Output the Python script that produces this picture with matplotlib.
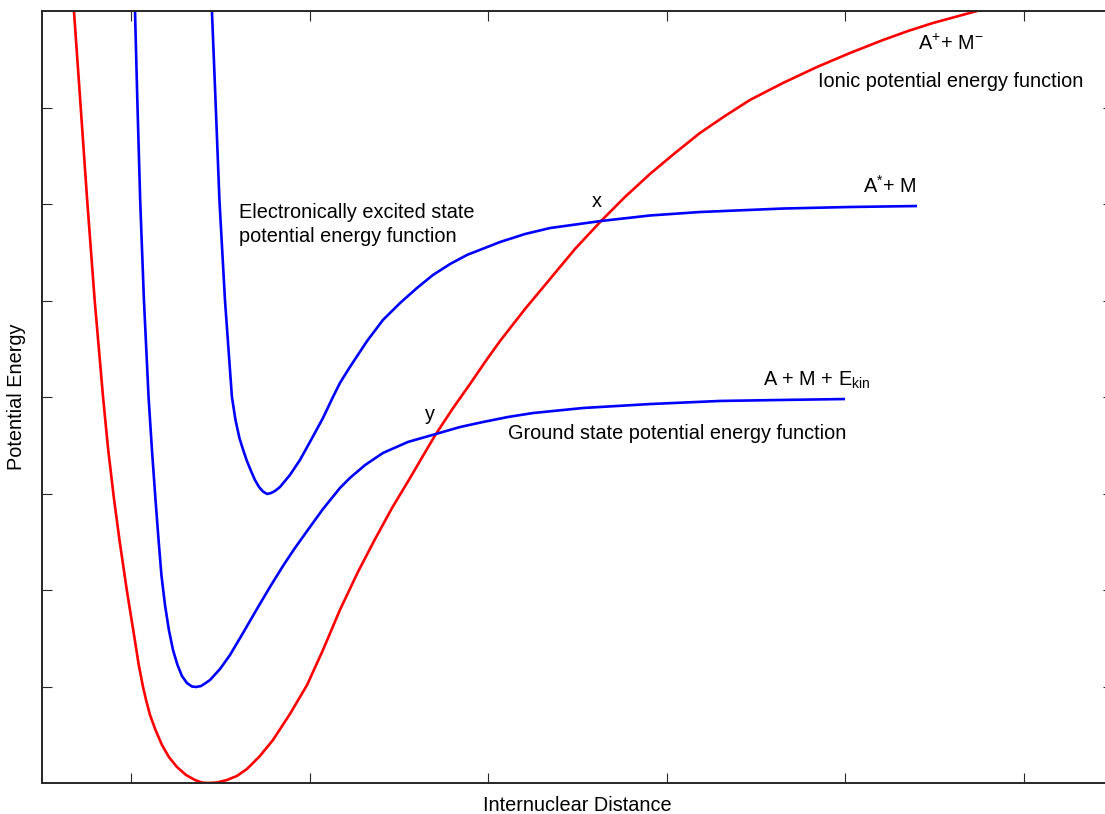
import matplotlib
matplotlib.use('Agg')
import matplotlib.pyplot as plt

plt.rcParams['font.family'] = ['Liberation Sans', 'DejaVu Sans']
plt.rcParams['mathtext.default'] = 'regular'

# curves (x: internuclear distance, y: potential energy)
ionic_x = [0.175, 0.179, 0.214, 0.253, 0.295, 0.342, 0.371, 0.402, 0.434, 0.475,
           0.520, 0.542, 0.566, 0.583, 0.605, 0.636, 0.672, 0.711, 0.756, 0.807,
           0.857, 0.896, 0.930,
           0.980, 1.036, 1.092, 1.148, 1.221, 1.294, 1.389, 1.485, 1.574, 1.669,
           1.770, 1.866, 1.961, 2.062, 2.134, 2.207, 2.303, 2.398, 2.482, 2.566,
           2.706, 2.846, 2.986, 3.132, 3.266, 3.406, 3.546, 3.686, 3.826, 3.966,
           4.151, 4.342, 4.527, 4.711, 4.852, 4.992, 5.115, 5.238, 5.367]
ionic_y = [8.218, 8.000, 7.078, 6.041, 5.005, 4.000, 3.451, 2.964, 2.518, 2.000,
           1.482, 1.223, 0.995, 0.860, 0.705, 0.549, 0.394, 0.269, 0.166, 0.083,
           0.031, 0.005, 0.000,
           0.005, 0.031, 0.073, 0.145, 0.280, 0.446, 0.715, 1.016, 1.378, 1.793,
           2.187, 2.528, 2.850, 3.161, 3.389, 3.617, 3.886, 4.135, 4.363, 4.580,
           4.912, 5.223, 5.534, 5.824, 6.073, 6.311, 6.528, 6.736, 6.912, 7.078,
           7.254, 7.420, 7.565, 7.699, 7.793, 7.876, 7.938, 8.000, 8.062]

ground_x = [0.519, 0.521, 0.534, 0.550, 0.571, 0.597, 0.616, 0.636, 0.653, 0.669,
            0.689, 0.711, 0.734, 0.759, 0.784, 0.812, 0.840, 0.863, 0.891, 0.913,
            0.941, 0.997, 1.053, 1.126, 1.204, 1.277, 1.350, 1.417, 1.485, 1.574,
            1.669, 1.725, 1.810, 1.910, 2.050, 2.207, 2.342, 2.471, 2.611, 2.751,
            3.031, 3.406, 3.798, 4.134, 4.499]
ground_y = [8.218, 8.000, 7.078, 6.041, 5.005, 4.000, 3.451, 2.933, 2.518, 2.155,
            1.845, 1.585, 1.378, 1.223, 1.109, 1.036, 1.000, 0.995, 1.005, 1.031,
            1.067, 1.181, 1.326, 1.554, 1.803, 2.031, 2.249, 2.435, 2.611, 2.839,
            3.057, 3.161, 3.295, 3.420, 3.534, 3.617, 3.689, 3.741, 3.793, 3.834,
            3.886, 3.927, 3.959, 3.969, 3.979]

excited_x = [0.950, 0.952, 0.972, 0.994, 1.025, 1.064, 1.084, 1.106, 1.129, 1.148,
             1.171, 1.193, 1.216, 1.238, 1.261, 1.283, 1.305, 1.333, 1.389, 1.445,
             1.507, 1.574, 1.630, 1.669, 1.725, 1.821, 1.910, 2.006, 2.101, 2.190,
             2.286, 2.381, 2.566, 2.706, 2.846, 3.132, 3.406, 3.686, 4.151, 4.527,
             4.902]
excited_y = [8.218, 8.000, 7.078, 6.041, 5.005, 4.000, 3.762, 3.575, 3.440, 3.337,
             3.233, 3.140, 3.067, 3.021, 2.995, 3.005, 3.026, 3.067, 3.192, 3.347,
             3.554, 3.782, 4.000, 4.145, 4.311, 4.580, 4.798, 4.974, 5.130, 5.264,
             5.378, 5.472, 5.606, 5.689, 5.751, 5.824, 5.881, 5.917, 5.953, 5.969,
             5.979]

xticks = [0.5, 1.5, 2.5, 3.5, 4.5, 5.5]
yticks = [1, 2, 3, 4, 5, 6, 7]

fig = plt.figure(figsize=(11.05, 8.14), dpi=100)
ax = fig.add_axes([42/1105, 31/814, 1071/1105, 772/814])

ax.plot(ionic_x, ionic_y, color='#ff0000', lw=1.9, solid_capstyle='butt')
ax.plot(ground_x, ground_y, color='#0000ff', lw=1.9, solid_capstyle='butt')
ax.plot(excited_x, excited_y, color='#0000ff', lw=1.9, solid_capstyle='butt')

ax.set_xlim(0, 6)
ax.set_ylim(0, 8)
ax.set_xticks(xticks)
ax.set_yticks(yticks)
ax.set_xticklabels([])
ax.set_yticklabels([])
ax.tick_params(direction='in', length=7.5, width=0.8, top=True, right=True,
               color='#262626')
for s in ax.spines.values():
    s.set_linewidth(1.4)
    s.set_color('#262626')

fs = 14.3
ax.text(4.908, 7.596, r'A$^{+}$+ M$^{-}$', fontsize=fs, va='baseline')
ax.text(4.347, 7.212, 'Ionic potential energy function', fontsize=fs, va='baseline')
ax.text(4.599, 6.114, r'A$^{*}$+ M', fontsize=fs, va='baseline')
ax.text(3.081, 5.969, 'x', fontsize=fs, va='baseline')
ax.text(1.104, 5.855, 'Electronically excited state', fontsize=fs, va='baseline')
ax.text(1.104, 5.610, 'potential energy function', fontsize=fs, va='baseline')
ax.text(2.146, 3.762, 'y', fontsize=fs, va='baseline')
ax.text(2.611, 3.565, 'Ground state potential energy function', fontsize=fs, va='baseline')
ax.text(4.039, 4.114, r'A + M + E$_{kin}$', fontsize=fs, va='baseline')

ax.set_xlabel('Internuclear Distance', fontsize=fs, labelpad=6)
ax.set_ylabel('Potential Energy', fontsize=fs, labelpad=8)

fig.savefig('out.png', dpi=100)
